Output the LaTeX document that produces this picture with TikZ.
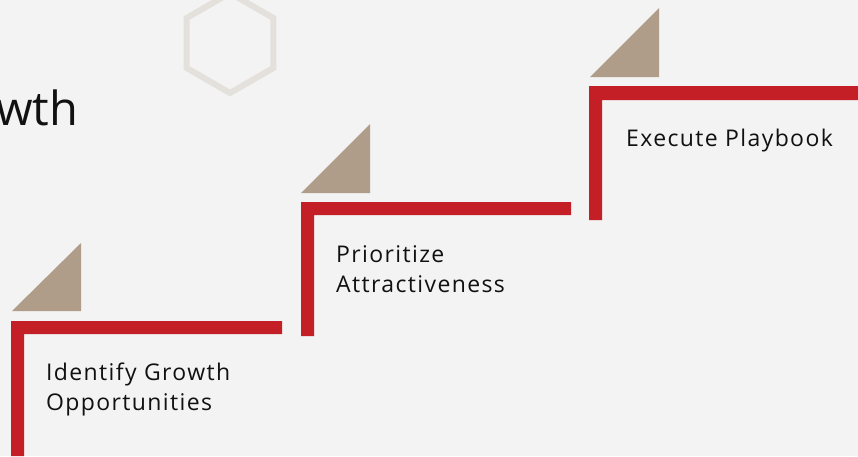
\documentclass[tikz,border=0pt]{standalone}
\usepackage{fontspec}
\setmainfont{Open Sans}
\newfontfamily\stepfont[LetterSpace=6]{Open Sans}
\definecolor{bg}{HTML}{F3F3F3}
\definecolor{stepred}{HTML}{C41F26}
\definecolor{tan}{HTML}{B09D89}
\definecolor{hexgrey}{HTML}{E4E0DB}
\definecolor{ink}{HTML}{111111}
\begin{document}
\begin{tikzpicture}[x=1pt,y=-1pt,
  redbar/.style={fill=stepred,draw=none},
  tri/.style={fill=tan,draw=none},
  label/.style={anchor=base west,inner sep=0pt,text=ink,font=\stepfont\fontsize{23}{30}\selectfont,align=left},
]
\fill[bg] (0,0) rectangle (858,456);
\useasboundingbox (0,0) rectangle (858,456);
% hexagon
\draw[hexgrey,line width=6pt] (230,-7) -- (273.3,18) -- (273.3,68) -- (230,93) -- (186.7,68) -- (186.7,18) -- cycle;
% title fragment
\begin{scope}
\clip (0,0) rectangle (858,456);
\node[anchor=base west,inner sep=0pt,text=ink,font=\fontsize{47}{50}\selectfont] (title) at (-4,125) {wth};
\end{scope}
% step 1
\fill[tri] (12,311) -- (81,311) -- (81,243) -- cycle;
\fill[redbar] (11,321) rectangle (282,334) (11,321) rectangle (24,456);
\node[label] (s1) at (46,410) {Identify Growth\\Opportunities};
% step 2
\fill[tri] (301,193) -- (370,193) -- (370,124) -- cycle;
\fill[redbar] (301,202) rectangle (571,215) (301,202) rectangle (314,336);
\node[label] (s2) at (336,292) {Prioritize\\Attractiveness};
% step 3
\fill[tri] (590,77) -- (659,77) -- (659,8) -- cycle;
\fill[redbar] (589,86) rectangle (858,100) (589,86) rectangle (602,220);
\node[label] (s3) at (626,146) {Execute Playbook};
\end{tikzpicture}
\end{document}
